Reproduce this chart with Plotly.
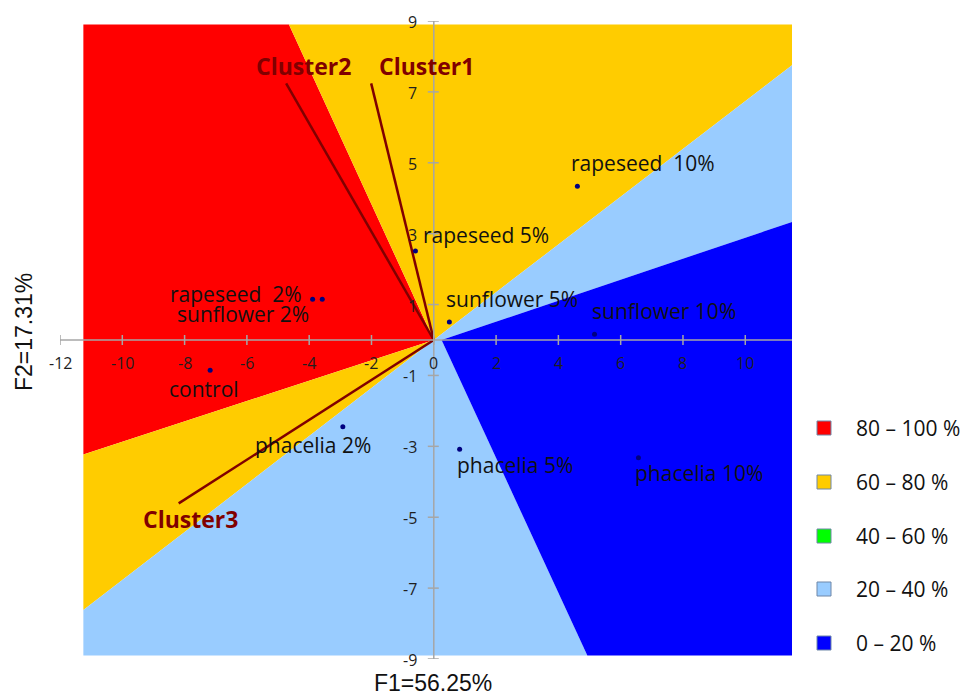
import plotly.graph_objects as go

# ---------------- data ----------------
sample_names = ["rapeseed\u00a0 10%", "rapeseed 5%", "rapeseed\u00a0 2%", "sunflower 2%",
                "sunflower 5%", "sunflower 10%", "control", "phacelia 2%",
                "phacelia 5%", "phacelia 10%"]
f1_scores = [4.61, -0.59, -3.89, -3.58, 0.50, 5.16, -7.18, -2.92, 0.83, 6.57]
f2_scores = [4.34, 2.51, 1.15, 1.15, 0.51, 0.16, -0.85, -2.45, -3.08, -3.32]

cluster_names = ["Cluster1", "Cluster2", "Cluster3"]
cluster_f1 = [-2.01, -4.74, -8.19]
cluster_f2 = [7.24, 7.24, -4.61]

class_labels = ["80 – 100 %", "60 – 80 %", "40 – 60 %", "20 – 40 %", "0 – 20 %"]

# response-surface sectors (polygon vertices, data units), one entry per class
region_x = {
    "80 – 100 %": [[0, -4.65, -11.25, -11.25]],
    "60 – 80 %": [[0, 11.5, 11.5, -4.65], [0, -11.25, -11.25]],
    "40 – 60 %": [],
    "20 – 40 %": [[0, 0.25, 11.5, 11.5], [0, -11.25, -11.25, 4.93, 0.25]],
    "0 – 20 %": [[0.25, 4.93, 11.5, 11.5]],
}
region_y = {
    "80 – 100 %": [[0, 8.9, 8.9, -3.23]],
    "60 – 80 %": [[0, 7.75, 8.9, 8.9], [0, -3.23, -7.62]],
    "40 – 60 %": [],
    "20 – 40 %": [[0, 0.0, 3.33, 7.75], [0, -7.62, -8.9, -8.9, 0.0]],
    "0 – 20 %": [[0.0, -8.9, -8.9, 3.33]],
}

x_ticks = [-12, -10, -8, -6, -4, -2, 0, 2, 4, 6, 8, 10]
y_ticks = [9, 7, 5, 3, 1, -1, -3, -5, -7, -9]
x_range = [-12, 11.5]
y_range = [-9, 9]

# ---------------- styles ----------------
class_colors = ["#FF0000", "#FFCC00", "#00FF00", "#99CCFF", "#0000FF"]
label_shift = [(66, 23), (71, 16), (-77, 5), (-79, -15), (63, 23), (69, 23),
               (-6, -19), (-30, -18), (55, -16), (61, -15)]
cluster_shift = [(55, 17), (17, 17), (12, -16)]
cluster_color = "#800000"
axis_color = "#A6A6A6"
W, H = 970, 696
M = dict(l=60, r=178, t=21, b=37)
plot_w = W - M["l"] - M["r"]
plot_h = H - M["t"] - M["b"]

fig = go.Figure()

# sectors
for lab, col in zip(class_labels, class_colors):
    xs, ys = [], []
    for px_, py_ in zip(region_x[lab], region_y[lab]):
        xs += list(px_) + [px_[0], None]
        ys += list(py_) + [py_[0], None]
    if xs:
        fig.add_trace(go.Scatter(x=xs, y=ys, mode="lines", fill="toself",
                                 fillcolor=col, line=dict(width=0, color=col),
                                 hoverinfo="skip", showlegend=False))

# cluster vectors
for cx, cy in zip(cluster_f1, cluster_f2):
    fig.add_trace(go.Scatter(x=[0, cx], y=[0, cy], mode="lines",
                             line=dict(color=cluster_color, width=2.5),
                             hoverinfo="skip", showlegend=False))

# sample points
fig.add_trace(go.Scatter(x=f1_scores, y=f2_scores, mode="markers",
                         marker=dict(color="#000080", size=5),
                         text=sample_names, hoverinfo="text", showlegend=False))

shapes = []
annotations = []

# axes through origin
shapes.append(dict(type="line", x0=x_range[0], x1=x_range[1], y0=0, y1=0,
                   line=dict(color=axis_color, width=1.5)))
shapes.append(dict(type="line", x0=0, x1=0, y0=y_range[0], y1=y_range[1],
                   line=dict(color=axis_color, width=1.5)))
for t in x_ticks:
    shapes.append(dict(type="line", xref="x", yref="y", ysizemode="pixel", yanchor=0,
                       x0=t, x1=t, y0=-5, y1=5, line=dict(color=axis_color, width=1.5)))
    annotations.append(dict(x=t, y=0, text=str(t), showarrow=False, yshift=-23,
                            xanchor="center", yanchor="middle",
                            font=dict(family="Open Sans", size=16, color="#1F1F1F")))
for t in y_ticks:
    shapes.append(dict(type="line", xref="x", yref="y", xsizemode="pixel", xanchor=0,
                       y0=t, y1=t, x0=-6, x1=5, line=dict(color=axis_color, width=1.5)))
    annotations.append(dict(x=0, y=t, text=str(t), showarrow=False, xshift=-15, yshift=-1,
                            xanchor="right", yanchor="middle",
                            font=dict(family="Open Sans", size=16, color="#1F1F1F")))

# sample labels
for nm, x, y, (dx, dy) in zip(sample_names, f1_scores, f2_scores, label_shift):
    annotations.append(dict(x=x, y=y, text=nm, showarrow=False, xshift=dx, yshift=dy,
                            xanchor="center", yanchor="middle",
                            font=dict(family="Open Sans", size=21, color="#111111")))

# cluster labels
for nm, x, y, (dx, dy) in zip(cluster_names, cluster_f1, cluster_f2, cluster_shift):
    annotations.append(dict(x=x, y=y, text="<b>" + nm + "</b>", showarrow=False,
                            xshift=dx, yshift=dy, xanchor="center", yanchor="middle",
                            font=dict(family="Open Sans", size=23, color=cluster_color)))

# axis titles
def px2paper_x(px):
    return (px - M["l"]) / plot_w

def px2paper_y(py):
    return 1 - (py - M["t"]) / plot_h

annotations.append(dict(xref="paper", yref="paper", x=px2paper_x(433), y=px2paper_y(683),
                        text="F1=56.25%", showarrow=False, xanchor="center", yanchor="middle",
                        font=dict(family="Liberation Sans", size=23, color="#111111")))
annotations.append(dict(xref="paper", yref="paper", x=px2paper_x(24), y=px2paper_y(332),
                        text="F2=17.31%", showarrow=False, textangle=-90,
                        xanchor="center", yanchor="middle",
                        font=dict(family="Liberation Sans", size=23, color="#111111")))

# legend (manual)
legend_y_px = [428, 482, 536, 589, 643]
for lab, col, ly in zip(class_labels, class_colors, legend_y_px):
    shapes.append(dict(type="rect", xref="paper", yref="paper",
                       x0=px2paper_x(817), x1=px2paper_x(831),
                       y0=px2paper_y(ly + 7), y1=px2paper_y(ly - 7),
                       fillcolor=col, line=dict(color="#6F87A8", width=1)))
    annotations.append(dict(xref="paper", yref="paper", x=px2paper_x(854), y=px2paper_y(ly),
                            text=lab, showarrow=False, xanchor="left", yanchor="middle",
                            font=dict(family="Open Sans", size=21, color="#111111")))

fig.update_layout(
    width=W, height=H, margin=M,
    paper_bgcolor="white", plot_bgcolor="white",
    xaxis=dict(range=x_range, visible=False, showgrid=False, zeroline=False, fixedrange=True),
    yaxis=dict(range=y_range, visible=False, showgrid=False, zeroline=False, fixedrange=True),
    shapes=shapes, annotations=annotations, showlegend=False,
)

fig.write_html("out.html")
